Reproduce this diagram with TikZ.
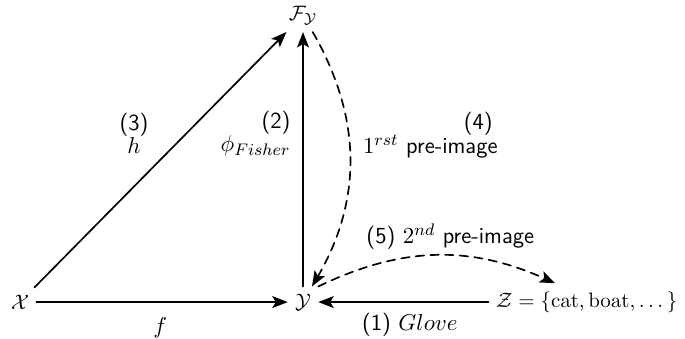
\documentclass[tikz,border=0pt]{standalone}
\usepackage{amsmath,amssymb}
\usepackage{tikz}
\usetikzlibrary{arrows.meta,calc}

\begin{document}
\begin{tikzpicture}[
  >={Stealth[length=2.6mm,width=2.0mm,inset=0.6mm]},
  line cap=round,
  line join=round,
  every node/.style={font=\sffamily\fontsize{10.3}{12}\selectfont},
  lbl/.style={font=\sffamily\fontsize{11}{12}\selectfont},
  map/.style={->, line width=0.8pt},
  preimg/.style={->, line width=0.8pt, dashed, dash pattern=on 4pt off 3pt}
]
  % Frame of the picture
  \useasboundingbox (0,0) rectangle (11.5,5.675);

  % Spaces
  \node (X) at (0.336,0.604) {$\mathcal{X}$};
  \node (Y) at (5.087,0.604) {$\mathcal{Y}$};
  \node (F) at (5.087,5.42)  {$\mathcal{F}_{\mathcal{Y}}$};
  \node[anchor=west] (Z) at (8.2,0.604) {$\mathcal{Z}=\{\mathrm{cat},\mathrm{boat},\dots\}$};
  \coordinate (zt) at (9.32,0.92);

  % Solid maps
  \draw[map] (X) -- (Y);
  \draw[map] (X) -- (F);
  \draw[map] (Y) -- (F);
  \draw[map] (Z) -- (Y);

  % Pre-images (dashed)
  \draw[preimg] (F) to[bend left=30] (Y);
  \draw[preimg] (Y.north east) to[bend left=25] (zt);

  % Labels
  \node[lbl, align=center] (l3) at (2.25,3.43) {(3)\\[-1pt]$h$};
  \node[lbl, align=right, anchor=east] (l2) at (5.0,3.43) {(2)\\[-1pt]$\phi_{Fisher}$};
  \node[lbl] (l4)  at (8.03,3.59) {(4)};
  \node[lbl, anchor=west] (l4b) at (5.97,3.21) {$1^{rst}$ pre-image};
  \node[lbl] (l5)  at (7.56,1.70) {(5) $2^{nd}$ pre-image};
  \node[lbl] (lf)  at (2.69,0.17) {$f$};
  \node[lbl] (l1)  at (6.88,0.22) {(1) $Glove$};
\end{tikzpicture}
\end{document}
